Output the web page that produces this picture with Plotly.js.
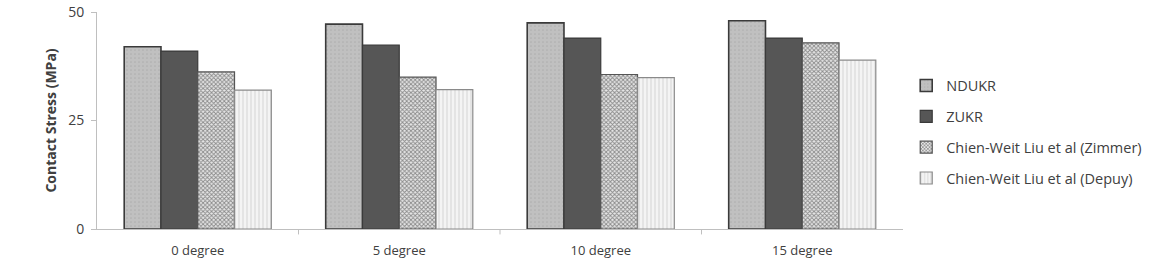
<!DOCTYPE html>
<html><head><meta charset="utf-8">
<script src="https://cdn.plot.ly/plotly-3.0.1.min.js"></script>
<style>body{margin:0;background:#fff}#c{width:1149px;height:264px}</style>
</head><body><div id="c"></div>
<script>
var categories = ["0 degree", "5 degree", "10 degree", "15 degree"];
var seriesNames = ["NDUKR", "ZUKR", "Chien-Weit Liu et al (Zimmer)", "Chien-Weit Liu et al (Depuy)"];
var nduKR = [42, 47.2, 47.5, 48];
var zuKR = [41, 42.4, 44, 44];
var zimmer = [36.2, 35, 35.6, 42.9];
var depuy = [32, 32.1, 34.9, 38.9];
var yTicks = [0, 25, 50];

var styles = [
  {color:"#bdbdbd", line:"#3a3a3a", lw:1.6, pattern:{shape:".", fgcolor:"#b0b0b0", bgcolor:"#c0c0c0", size:4, solidity:0.15}},
  {color:"#565656", line:"#3a3a3a", lw:1.2, pattern:{shape:""}},
  {color:"#ffffff", line:"#555555", lw:1.2, pattern:{shape:"x", fgcolor:"#8a8a8a", bgcolor:"#e6e6e6", size:3, solidity:0.5}},
  {color:"#f2f2f2", line:"#8a8a8a", lw:1.2, pattern:{shape:"|", fgcolor:"#d4d4d4", bgcolor:"#f4f4f4", size:4, solidity:0.25}}
];
var vals = [nduKR, zuKR, zimmer, depuy];
var traces = vals.map(function(v, i){
  var s = styles[i];
  var m = {color:s.color, line:{color:s.line, width:s.lw}};
  if (s.pattern.shape) m.pattern = s.pattern;
  return {type:"bar", name:seriesNames[i], x:categories, y:v, marker:m, legendgroup:"g"+i};
});

var layout = {
  width:1149, height:264,
  margin:{l:97, r:246, t:12, b:35, autoexpand:false},
  paper_bgcolor:"#fff", plot_bgcolor:"#fff",
  font:{family:"Open Sans, Liberation Sans, sans-serif", size:12, color:"#404040"},
  barmode:"group", bargap:0.27, bargroupgap:0,
  showlegend:true,
  legend:{x:1.004, y:0.735, xanchor:"left", yanchor:"top", tracegroupgap:9,
          font:{size:14.5, color:"#404040"}, itemwidth:30},
  xaxis:{showline:true, linecolor:"#bfbfbf", linewidth:1, showgrid:false, zeroline:false,
         ticks:"", tickfont:{size:13}, ticklabelstandoff:9},
  yaxis:{range:[0,50], tickvals:yTicks, showline:true, linecolor:"#bfbfbf", linewidth:1,
         showgrid:false, zeroline:false, ticks:"outside", ticklen:5, tickcolor:"#bfbfbf",
         tickfont:{size:14}, ticklabelstandoff:4,
         title:{text:"<b>Contact Stress (MPa)</b>", font:{size:14, color:"#404040"}, standoff:8}},
  shapes:[1,2,3].map(function(k){
    return {type:"line", xref:"x", yref:"paper", x0:k-0.5, x1:k-0.5, y0:0, y1:-0.025,
            line:{color:"#bfbfbf", width:1}};
  })
};
Plotly.newPlot("c", traces, layout, {displayModeBar:false, staticPlot:true});
</script></body></html>
